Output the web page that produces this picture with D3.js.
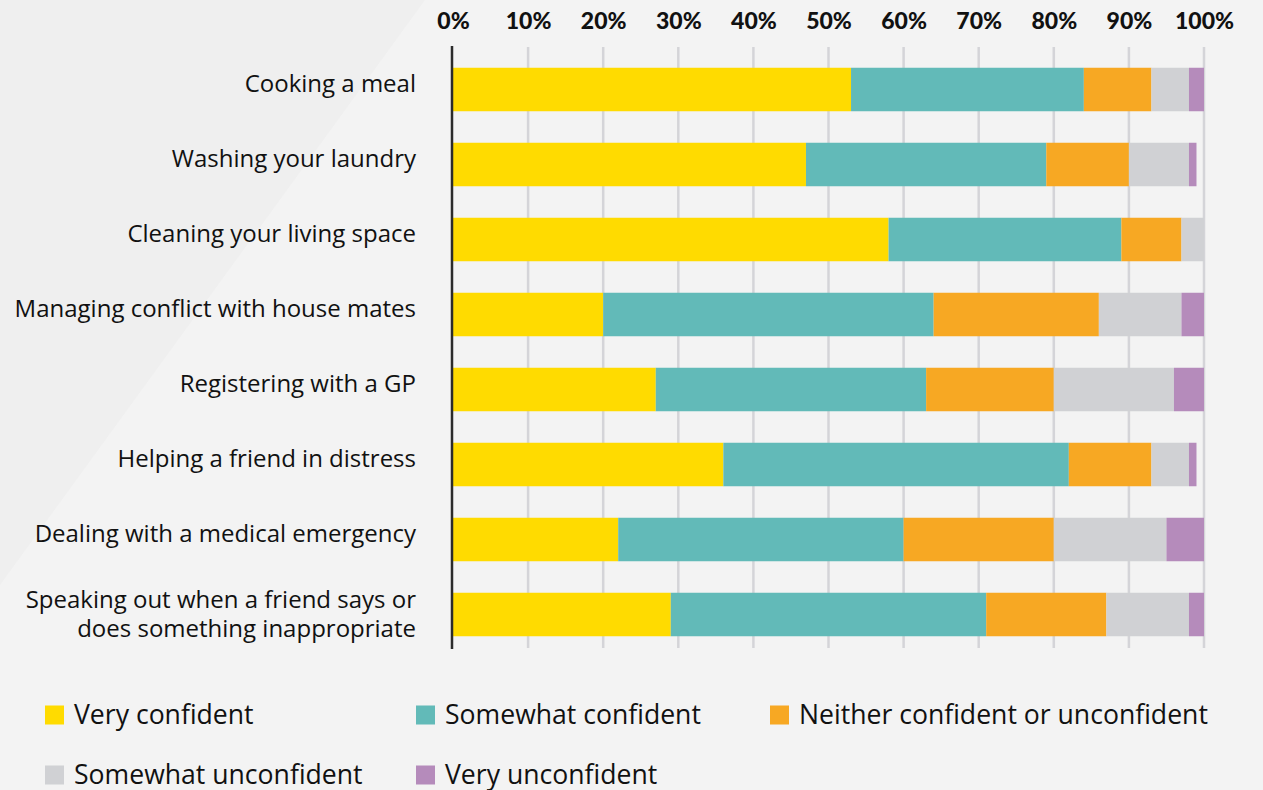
<!DOCTYPE html>
<html>
<head>
<meta charset="utf-8">
<script src="https://cdn.jsdelivr.net/npm/d3@7"></script>
<style>
  html, body { margin: 0; padding: 0; background: #f3f3f3; }
  svg { display: block; }
</style>
</head>
<body>
<svg id="chart" width="1263" height="790"></svg>
<script>
// Survey items, top to bottom
const categories = [
  "Cooking a meal",
  "Washing your laundry",
  "Cleaning your living space",
  "Managing conflict with house mates",
  "Registering with a GP",
  "Helping a friend in distress",
  "Dealing with a medical emergency",
  "Speaking out when a friend says or|does something inappropriate"
];

const seriesNames = [
  "Very confident",
  "Somewhat confident",
  "Neither confident or unconfident",
  "Somewhat unconfident",
  "Very unconfident"
];

// Percent of respondents per answer, one array per answer
const veryConfident       = [53, 47, 58, 20, 27, 36, 22, 29];
const somewhatConfident   = [31, 32, 31, 44, 36, 46, 38, 42];
const neither             = [ 9, 11,  8, 22, 17, 11, 20, 16];
const somewhatUnconfident = [ 5,  8,  3, 11, 16,  5, 15, 11];
const veryUnconfident     = [ 2,  1,  0,  3,  4,  1,  5,  2];

const tickValues = [0, 10, 20, 30, 40, 50, 60, 70, 80, 90, 100];

const colors = ["#ffdb00", "#62bab8", "#f7a823", "#d0d1d4", "#b58bbb"];

const seriesValues = [veryConfident, somewhatConfident, neither, somewhatUnconfident, veryUnconfident];

const rows = categories.map((c, i) => {
  const r = { category: c };
  seriesNames.forEach((s, k) => { r[s] = seriesValues[k][i]; });
  return r;
});

const svg = d3.select("#chart");
const W = 1263, H = 790;

// Background with a diagonal darker wedge on the left
svg.append("rect").attr("width", W).attr("height", H).attr("fill", "#f3f3f3");
svg.append("path").attr("d", "M0,0 L425,0 L0,585 Z").attr("fill", "#efefef");

const x = d3.scaleLinear().domain([0, 100]).range([453, 1204]);
const y = d3.scaleBand().domain(categories).range([52, 652]).paddingInner(0.42).paddingOuter(0.21);

// Vertical gridlines
svg.append("g")
  .selectAll("line")
  .data(tickValues.filter(t => t > 0))
  .join("line")
  .attr("x1", d => x(d)).attr("x2", d => x(d))
  .attr("y1", 47).attr("y2", 648)
  .attr("stroke", "#d4d4d8")
  .attr("stroke-width", 2.5);

// Top axis labels
const xAxis = d3.axisTop(x).tickValues(tickValues).tickFormat(d => d + "%").tickSize(0).tickPadding(0);
const ax = svg.append("g").attr("transform", "translate(0,29)").call(xAxis);
ax.select(".domain").remove();
ax.selectAll("text")
  .attr("font-family", "Lato, sans-serif")
  .attr("font-weight", 900)
  .attr("font-size", 23)
  .attr("fill", "#111")
  .attr("dy", 0);

// Stacked bars
const stack = d3.stack().keys(seriesNames)(rows);
svg.append("g")
  .selectAll("g")
  .data(stack)
  .join("g")
  .attr("fill", (d, i) => colors[i])
  .selectAll("rect")
  .data(d => d)
  .join("rect")
  .attr("x", d => x(d[0]))
  .attr("width", d => x(d[1]) - x(d[0]))
  .attr("y", d => y(d.data.category))
  .attr("height", y.bandwidth());

// Baseline axis at 0%
svg.append("line")
  .attr("x1", x(0) - 1).attr("x2", x(0) - 1)
  .attr("y1", 46).attr("y2", 649)
  .attr("stroke", "#2b2b2b")
  .attr("stroke-width", 2.5);

// Category labels (right-aligned, may wrap onto two lines)
const labels = svg.append("g")
  .selectAll("text")
  .data(categories)
  .join("text")
  .attr("x", 416)
  .attr("text-anchor", "end")
  .attr("font-family", "'Open Sans', sans-serif")
  .attr("font-size", 24)
  .attr("fill", "#111");
labels.each(function (d) {
  const parts = d.split("|");
  const cy = y(d) + y.bandwidth() / 2;
  const lh = 29;
  const t = d3.select(this);
  const single = parts.length === 1;
  parts.forEach((p, i) => {
    t.append("tspan")
      .attr("x", 416)
      .attr("y", single ? cy - 6 : cy + (i - (parts.length - 1) / 2) * lh)
      .attr("dy", "0.35em")
      .text(p);
  });
});

// Legend
const legendPos = [
  [45, 715], [416, 715], [770, 715],
  [45, 775], [416, 775]
];
const lg = svg.append("g")
  .selectAll("g")
  .data(seriesNames)
  .join("g")
  .attr("transform", (d, i) => `translate(${legendPos[i][0]},${legendPos[i][1]})`);
lg.append("rect")
  .attr("x", 0).attr("y", -9.5)
  .attr("width", 19).attr("height", 19)
  .attr("fill", (d, i) => colors[i]);
lg.append("text")
  .attr("x", 29)
  .attr("y", 0)
  .attr("dy", "0.35em")
  .attr("font-family", "'Open Sans', sans-serif")
  .attr("font-size", 26.6)
  .attr("fill", "#111")
  .text(d => d);
</script>
</body>
</html>
